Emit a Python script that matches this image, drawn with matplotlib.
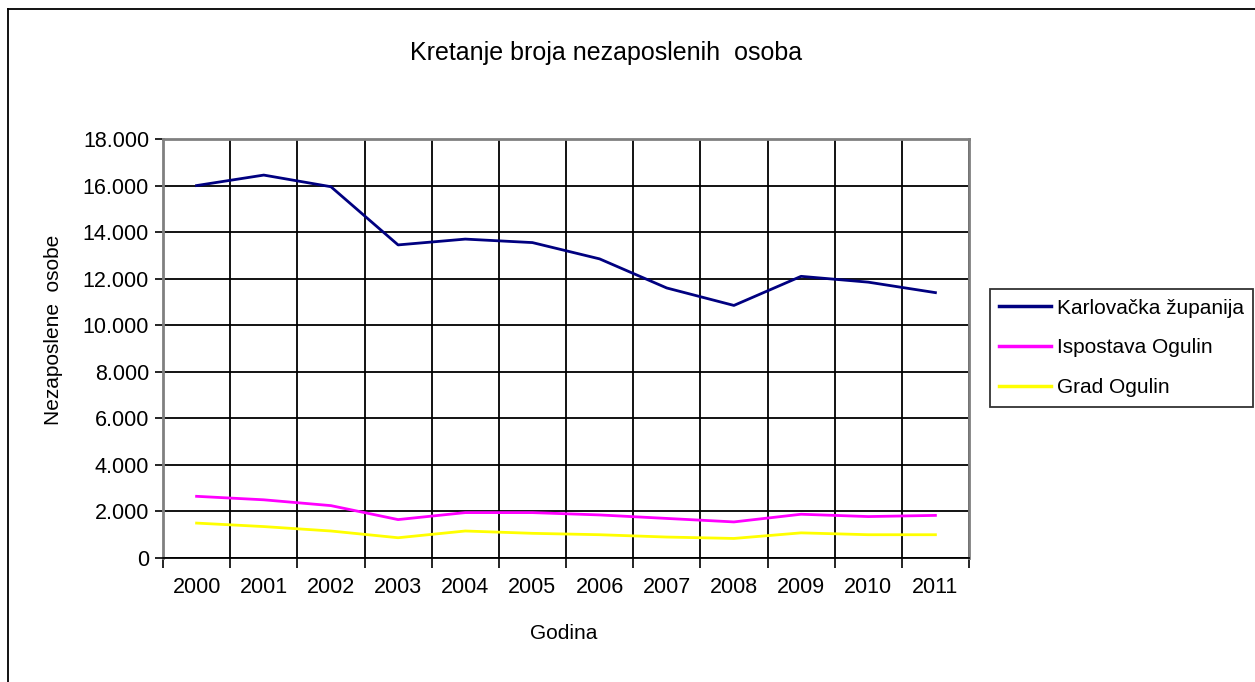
import matplotlib.pyplot as plt
from matplotlib.ticker import FuncFormatter, MultipleLocator
from matplotlib.lines import Line2D

plt.rcParams['font.family'] = ['Liberation Sans', 'DejaVu Sans']

godine = ['2000', '2001', '2002', '2003', '2004', '2005',
          '2006', '2007', '2008', '2009', '2010', '2011']
karlovacka = [16000, 16450, 15950, 13450, 13700, 13550,
              12850, 11600, 10850, 12100, 11850, 11400]
ispostava = [2650, 2500, 2250, 1650, 1950, 1950,
             1850, 1700, 1550, 1880, 1780, 1830]
grad = [1500, 1350, 1160, 870, 1160, 1060,
        1000, 900, 840, 1080, 1000, 1000]

fig = plt.figure(figsize=(12.55, 6.82), dpi=100)
ax = fig.add_axes([163 / 1255, 1 - 558 / 682, (969 - 163) / 1255, (558 - 139) / 682])

x = list(range(len(godine)))
ax.plot(x, karlovacka, color='#000080', lw=2.0, label='Karlovačka županija')
ax.plot(x, ispostava, color='#FF00FF', lw=2.0, label='Ispostava Ogulin')
ax.plot(x, grad, color='#FFFF00', lw=2.0, label='Grad Ogulin')

ax.set_xlim(-0.5, len(godine) - 0.5)
ax.set_ylim(0, 18000)
ax.yaxis.set_major_locator(MultipleLocator(2000))
ax.yaxis.set_major_formatter(FuncFormatter(lambda v, p: f"{int(v):,}".replace(",", ".")))

ax.set_xticks(x)
ax.set_xticklabels(godine)
ax.set_xticks([i - 0.5 for i in range(len(godine) + 1)], minor=True)
ax.tick_params(axis='x', which='major', length=0, pad=14, labelsize=15.5)
ax.tick_params(axis='x', which='minor', length=7, width=1.2, direction='out')
ax.tick_params(axis='y', length=6, width=1.2, labelsize=15.5, pad=4)

ax.grid(True, which='minor', axis='x', color='black', lw=1.3)
ax.grid(True, which='major', axis='y', color='black', lw=1.3)

for s in ['top', 'right', 'left']:
    ax.spines[s].set_color('#808080')
    ax.spines[s].set_linewidth(2)
ax.spines['bottom'].set_color('black')
ax.spines['bottom'].set_linewidth(1.3)

ax.set_ylabel('Nezaposlene  osobe', fontsize=15)
ax.yaxis.set_label_coords((63 - 163) / 806, (558 - 330) / 419)
ax.set_xlabel('Godina', fontsize=15)
ax.xaxis.set_label_coords((564 - 163) / 806, -(624 - 558) / 419)
fig.text(606 / 1255, 1 - 53 / 682, 'Kretanje broja nezaposlenih  osoba',
         ha='center', va='center', fontsize=18)

leg = ax.legend(loc='center left', bbox_to_anchor=(990 / 1255, 1 - 348 / 682),
                bbox_transform=fig.transFigure, fontsize=15, frameon=True,
                fancybox=False, edgecolor='black', handlelength=2.5,
                handletextpad=0.25, labelspacing=1.0, borderpad=0.45,
                borderaxespad=0)
leg.get_frame().set_linewidth(1.3)
for h in leg.get_lines():
    h.set_linewidth(2.5)

# okvir grafikona
fig.add_artist(Line2D([8 / 1255, 1], [1 - 9 / 682, 1 - 9 / 682], color='black', lw=1.3))
fig.add_artist(Line2D([8 / 1255, 8 / 1255], [0, 1 - 9 / 682], color='black', lw=1.3))

fig.savefig('out.png', dpi=100)
